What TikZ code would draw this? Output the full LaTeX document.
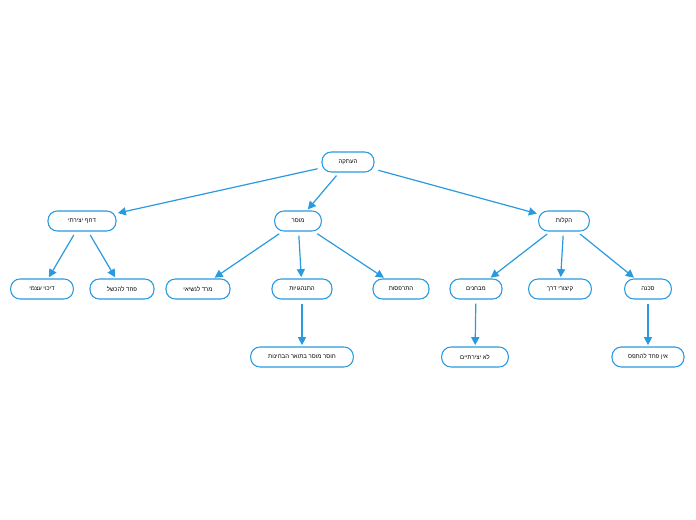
\documentclass[tikz,border=0pt]{standalone}
\usepackage{fontspec}
\setmainfont{Liberation Sans}
\TeXXeTstate=1
\usetikzlibrary{arrows.meta}
\definecolor{mapblue}{HTML}{2A9AE0}
\newcommand{\heb}[1]{\beginR #1\endR}
\tikzset{
  topic/.style={draw=mapblue, line width=0.8pt, rounded corners=7pt, fill=white,
    minimum height=15pt, inner sep=1pt, font=\fontsize{4.5}{5}\selectfont},
  link/.style={draw=mapblue, line width=0.9pt, -{Triangle[length=6pt,width=6pt]},
    shorten <=3pt, shorten >=1pt}
}
\begin{document}
\begin{tikzpicture}[x=0.75pt,y=-0.75pt]
    \useasboundingbox (0,0) rectangle (696,520);

    % root and first level
    \node[topic, minimum width=39pt] (root) at (348,162) {\heb{העתקה}};
    \node[topic, minimum width=51pt] (drive) at (82,221) {\heb{דחף יצירתי}};
    \node[topic, minimum width=35pt] (moral) at (298,221) {\heb{מוסר}};
    \node[topic, minimum width=38pt] (ease) at (564,221) {\heb{הקלות}};

    % second level
    \node[topic, minimum width=47pt] (supp) at (42,289) {\heb{דיכוי עצמי}};
    \node[topic, minimum width=48pt] (fear) at (122,289) {\heb{פחד להכשל}};
    \node[topic, minimum width=48pt] (rebel) at (198,289) {\heb{מרד לנשיאי}};
    \node[topic, minimum width=45pt] (behav) at (302,289) {\heb{התנהגויות}};
    \node[topic, minimum width=42pt] (flat) at (401,289) {\heb{התרפסות}};
    \node[topic, minimum width=39pt] (exams) at (476,289) {\heb{מבחנים}};
    \node[topic, minimum width=47pt] (short) at (560,289) {\heb{קיצורי דרך}};
    \node[topic, minimum width=35pt] (risk) at (648,289) {\heb{סכנה}};

    % third level
    \node[topic, minimum width=77pt] (lack) at (302,357) {\heb{חוסר מוסר בתואר הבחינות}};
    \node[topic, minimum width=50pt] (notcr) at (475,357) {\heb{לא יצירתיים}};
    \node[topic, minimum width=54pt] (nofear) at (648,357) {\heb{אין פחד להתפס}};

    % connectors
    \draw[link] (root) -- (drive);
    \draw[link] (root) -- (moral);
    \draw[link] (root) -- (ease);
    \draw[link] (drive) -- (supp);
    \draw[link] (drive) -- (fear);
    \draw[link] (moral) -- (rebel);
    \draw[link] (moral) -- (behav);
    \draw[link] (moral) -- (flat);
    \draw[link] (ease) -- (exams);
    \draw[link] (ease) -- (short);
    \draw[link] (ease) -- (risk);
    \draw[link] (behav) -- (lack);
    \draw[link] (exams) -- (notcr);
    \draw[link] (risk) -- (nofear);
\end{tikzpicture}
\end{document}
